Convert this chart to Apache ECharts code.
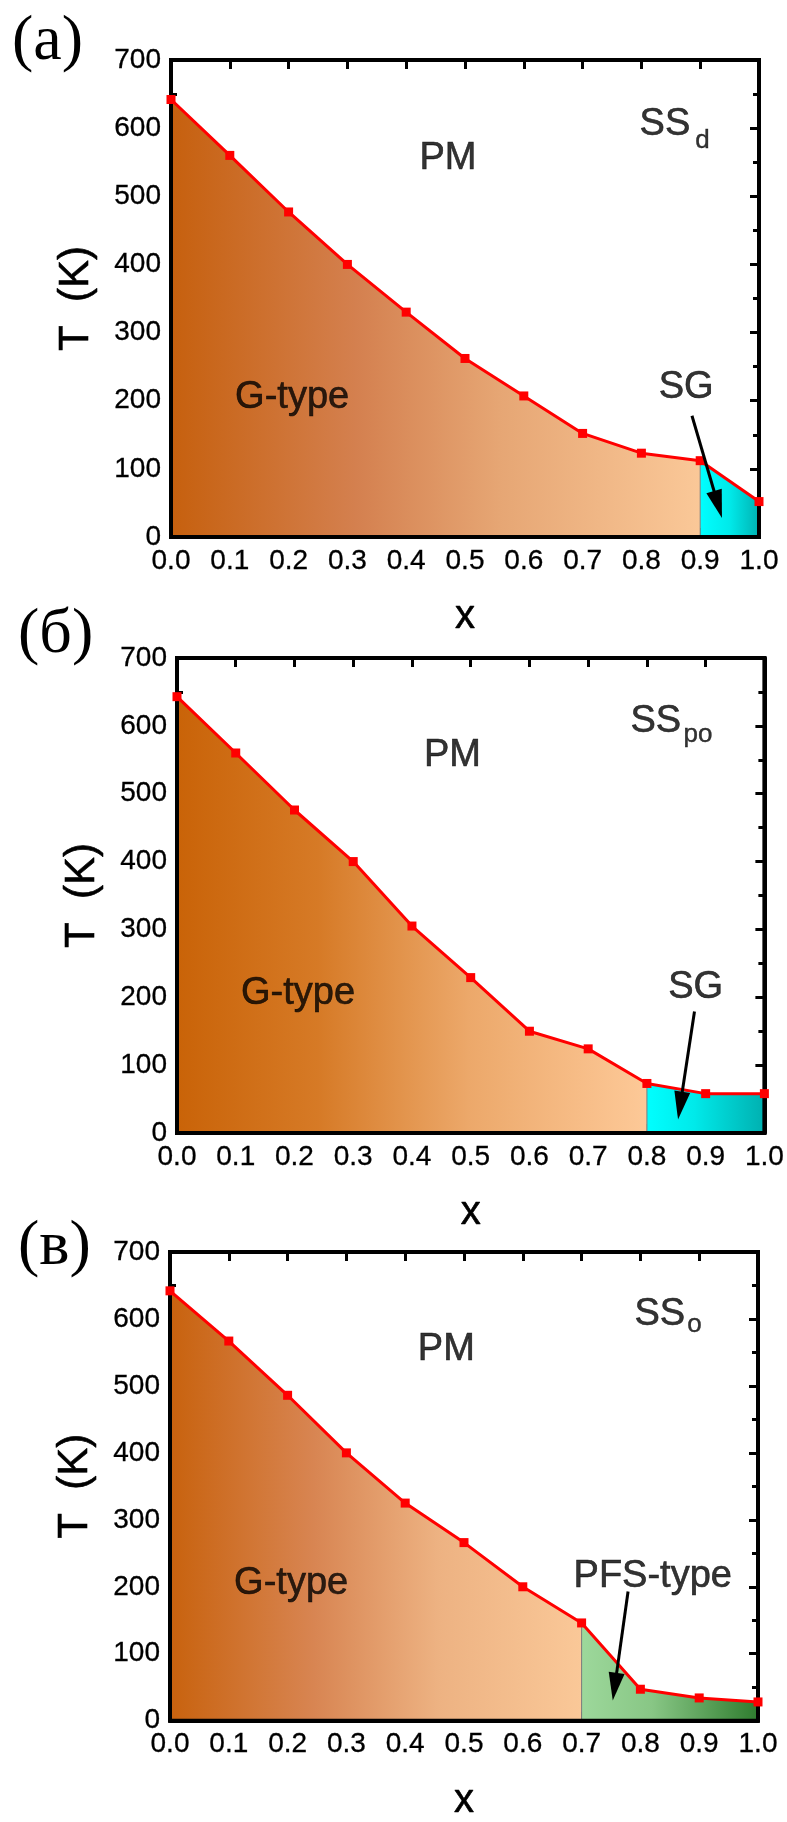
<!DOCTYPE html>
<html><head><meta charset="utf-8">
<script src="https://cdn.jsdelivr.net/npm/echarts@6/dist/echarts.min.js"></script>
<style>html,body{margin:0;padding:0;background:#fff}#c{width:787px;height:1822px}</style>
</head><body><div id="c"></div>
<script>
// ---------- data ----------
const xValues = [0.0, 0.1, 0.2, 0.3, 0.4, 0.5, 0.6, 0.7, 0.8, 0.9, 1.0];
const tA = [642, 560, 477, 400, 330, 262, 207, 152, 123, 112, 52];   // (a) SS_d
const tB = [643, 560, 476, 400, 305, 229, 150, 124, 73, 58, 58];     // (б) SS_po
const tC = [642, 567, 486, 400, 325, 266, 200, 146, 47, 34, 28];     // (в) SS_o
const boundaryIdx = [9, 8, 7];            // where the low-x phase gives way
const panelLabels = ['(a)', '(б)', '(в)'];
const yMax = 700, yStep = 100, xStep = 0.1;
// annotations [text, x, T, isSub]
const textsA = [['PM', 0.471, 555], ['G-type', 0.206, 205], ['SG', 0.876, 219], ['SS', 0.840, 605], ['d', 0.904, 581, 1]];
const textsB = [['PM', 0.469, 556], ['G-type', 0.206, 206], ['SG', 0.883, 215], ['SS', 0.815, 606], ['po', 0.887, 587, 1]];
const textsC = [['PM', 0.470, 555], ['G-type', 0.206, 205], ['PFS-type', 0.821, 215], ['SS', 0.833, 606], ['o', 0.892, 591, 1]];
// arrows [x1, T1, xTip, TTip]
const arrowA = [0.886, 178, 0.937, 28];
const arrowB = [0.881, 179, 0.853, 20];
const arrowC = [0.779, 193, 0.753, 30];

// ---------- styles ----------
const grids = [
  {left: 171, top: 60, width: 588, height: 477},
  {left: 177, top: 658, width: 588, height: 475},
  {left: 170, top: 1252, width: 588, height: 477}
];
const titlePos = [{left: 12, top: 10}, {left: 18, top: 603}, {left: 18, top: 1215}];
const gStops = [
  [[0, '#c6600e'], [0.35, '#d4804f'], [0.62, '#e6a674'], [1, '#fac898']],
  [[0, '#c96308'], [0.3, '#d67a26'], [0.62, '#eca86a'], [1, '#fdc998']],
  [[0, '#c8620e'], [0.35, '#d88552'], [0.65, '#edb282'], [1, '#fac898']]
];
const rStops = [
  [[0, '#00ffff'], [0.5, '#00eaea'], [1, '#00b2b2']],
  [[0, '#00ffff'], [0.4, '#00eaea'], [1, '#00b0b0']],
  [[0, '#9dd89b'], [0.4, '#88c685'], [1, '#2f7d2f']]
];
const FONT = 'Liberation Sans, Arial, sans-serif';
const allT = [tA, tB, tC];
const allTexts = [textsA, textsB, textsC];
const allArrows = [arrowA, arrowB, arrowC];

const grad = stops => new echarts.graphic.LinearGradient(0, 0, 1, 0,
  stops.map(s => ({offset: s[0], color: s[1]})));
const txt = (size, stroke) => ({color: '#000', fontSize: size, fontFamily: FONT,
  textBorderColor: '#000', textBorderWidth: stroke});
const axLine = () => ({show: true, onZero: false, lineStyle: {color: '#000', width: 4}});
const tick = len => ({show: true, inside: true, length: len, lineStyle: {color: '#000', width: 3}});

const xAxes = [], yAxes = [], series = [], titles = [];
grids.forEach((g, i) => {
  xAxes.push({
    gridIndex: i, type: 'value', min: 0, max: 1, interval: xStep, position: 'bottom',
    axisLine: axLine(), splitLine: {show: false}, axisTick: tick(9),
    axisLabel: Object.assign({margin: 10, formatter: v => v.toFixed(1)}, txt(28, 0.3)),
    name: 'x', nameLocation: 'middle', nameGap: 60,
    nameTextStyle: txt(40, 0.6)
  });
  xAxes.push({
    gridIndex: i, type: 'value', min: 0, max: 1, interval: xStep, position: 'top',
    axisLine: axLine(), splitLine: {show: false}, axisTick: tick(9),
    axisLabel: {show: false}
  });
  yAxes.push({
    gridIndex: i, type: 'value', min: 0, max: yMax, interval: yStep, position: 'left',
    axisLine: axLine(), splitLine: {show: false}, axisTick: tick(10),
    minorTick: {show: true, splitNumber: 2, length: 6, lineStyle: {color: '#000', width: 3}},
    minorSplitLine: {show: false},
    axisLabel: Object.assign({margin: 10}, txt(28, 0.3)),
    name: 'T  (K)', nameLocation: 'middle', nameGap: 74,
    nameTextStyle: txt(42, 0.6)
  });
  yAxes.push({
    gridIndex: i, type: 'value', min: 0, max: yMax, interval: yStep, position: 'right',
    axisLine: axLine(), splitLine: {show: false}, axisTick: tick(9),
    minorTick: {show: true, splitNumber: 2, length: 6, lineStyle: {color: '#000', width: 3}},
    minorSplitLine: {show: false},
    axisLabel: {show: false}
  });
  const xi = 2 * i, yi = 2 * i;
  const T = allT[i], b = boundaryIdx[i];
  const pts = xValues.map((x, k) => [x, T[k]]);
  series.push({
    type: 'line', xAxisIndex: xi, yAxisIndex: yi, data: pts.slice(0, b + 1),
    showSymbol: false, lineStyle: {width: 0}, areaStyle: {color: grad(gStops[i]), opacity: 1},
    silent: true, z: 1
  });
  series.push({
    type: 'line', xAxisIndex: xi, yAxisIndex: yi, data: pts.slice(b),
    showSymbol: false, lineStyle: {width: 0}, areaStyle: {color: grad(rStops[i]), opacity: 1},
    silent: true, z: 1
  });
  series.push({
    type: 'line', xAxisIndex: xi, yAxisIndex: yi, data: [[xValues[b], 0], [xValues[b], T[b]]],
    showSymbol: false, lineStyle: {width: 1, color: '#7a7a7a'}, silent: true, z: 2
  });
  // plot frame, drawn over the fills
  series.push({
    type: 'custom', xAxisIndex: xi, yAxisIndex: yi, data: [[0, 0]], z: 3, silent: true, clip: false,
    renderItem: (params) => {
      const cs = params.coordSys;
      return {type: 'rect', shape: {x: cs.x, y: cs.y, width: cs.width, height: cs.height},
              style: {fill: 'none', stroke: '#000', lineWidth: 4}};
    }
  });
  series.push({
    type: 'line', xAxisIndex: xi, yAxisIndex: yi, data: pts,
    symbol: 'rect', symbolSize: 9, showAllSymbol: true,
    lineStyle: {width: 3, color: '#ff0000'}, itemStyle: {color: '#ff0000'},
    silent: true, z: 4
  });
  series.push({
    type: 'custom', xAxisIndex: xi, yAxisIndex: yi, data: [allArrows[i]], z: 5, silent: true,
    encode: {x: [0, 2], y: [1, 3]},
    renderItem: (params, api) => {
      const p1 = api.coord([api.value(0), api.value(1)]);
      const p2 = api.coord([api.value(2), api.value(3)]);
      const dx = p2[0] - p1[0], dy = p2[1] - p1[1], L = Math.hypot(dx, dy);
      const ux = dx / L, uy = dy / L, hl = 28, hw = 8;
      const bx = p2[0] - ux * hl, by = p2[1] - uy * hl;
      return {type: 'group', children: [
        {type: 'line', shape: {x1: p1[0], y1: p1[1], x2: bx + ux * 2, y2: by + uy * 2},
         style: {stroke: '#000', lineWidth: 3}},
        {type: 'polygon', shape: {points: [[p2[0], p2[1]], [bx - uy * hw, by + ux * hw], [bx + uy * hw, by - ux * hw]]},
         style: {fill: '#000'}}
      ]};
    }
  });
  series.push({
    type: 'scatter', xAxisIndex: xi, yAxisIndex: yi, symbolSize: 0, silent: true, z: 6,
    itemStyle: {color: '#000'},
    data: allTexts[i].map(t => ({
      value: [t[1], t[2]],
      label: Object.assign({show: true, position: 'inside', formatter: t[0], fontWeight: 'normal',
              align: 'center', verticalAlign: 'middle'}, txt(t[3] ? 26 : 38, t[3] ? 0.4 : 0.6))
    }))
  });
  titles.push({
    text: panelLabels[i], left: titlePos[i].left, top: titlePos[i].top, padding: 0,
    textStyle: {fontFamily: 'Liberation Serif, Times New Roman, serif', fontSize: 64,
                fontWeight: 'normal', color: '#000', lineHeight: 64}
  });
});

const chart = echarts.init(document.getElementById('c'), null, {renderer: 'canvas', width: 787, height: 1822});
chart.setOption({
  animation: false,
  backgroundColor: '#fff',
  title: titles,
  grid: grids,
  xAxis: xAxes,
  yAxis: yAxes,
  series: series
});
</script></body></html>
